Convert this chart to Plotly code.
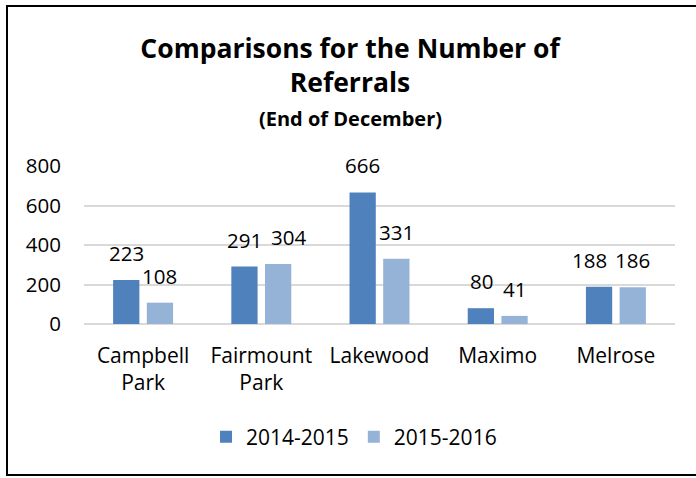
import plotly.graph_objects as go

# Referral counts per site, end of December
sites = ["Campbell<br>Park", "Fairmount<br>Park", "Lakewood", "Maximo", "Melrose"]
referrals_2014_2015 = [223, 291, 666, 80, 188]
referrals_2015_2016 = [108, 304, 331, 41, 186]
series_names = ["2014-2015", "2015-2016"]
y_ticks = [0, 200, 400, 600, 800]

DARK = "#4F81BD"
LIGHT = "#95B3D7"
FONT = "Open Sans"

fig = go.Figure()
fig.add_trace(go.Bar(x=sites, y=referrals_2014_2015, name=series_names[0],
                     marker=dict(color=DARK, line=dict(width=0))))
fig.add_trace(go.Bar(x=sites, y=referrals_2015_2016, name=series_names[1],
                     marker=dict(color=LIGHT, line=dict(width=0))))

# value labels above each bar; a few are nudged sideways so neighbours don't collide
nudge = {(0, "Melrose"): -10, (1, "Fairmount<br>Park"): 10}
for k, (values, shift) in enumerate(((referrals_2014_2015, -16.7), (referrals_2015_2016, 16.7))):
    for site, v in zip(sites, values):
        fig.add_annotation(x=site, y=v, text=str(v), showarrow=False,
                           xref="x", yref="y", xshift=shift + nudge.get((k, site), 0),
                           yshift=11, yanchor="bottom",
                           font=dict(family=FONT, size=20.5, color="#000"))

fig.add_annotation(text="<b>(End of December)</b>", xref="paper", yref="paper",
                   x=(350 - 84) / 591, y=(324 - 118) / 158, showarrow=False,
                   xanchor="center", yanchor="middle",
                   font=dict(family=FONT, size=20, color="#000"))

# outer frame
fig.add_shape(type="rect", xref="paper", yref="paper",
              x0=(7 - 84) / 591, x1=(705 - 84) / 591,
              y0=(324 - 475) / 158, y1=(324 - 6) / 158,
              line=dict(color="#000", width=2), fillcolor="rgba(0,0,0,0)", layer="above")

fig.update_layout(
    width=696, height=478,
    margin=dict(l=84, r=21, t=166, b=154),
    paper_bgcolor="white", plot_bgcolor="white",
    font=dict(family=FONT, size=20, color="#000"),
    title=dict(text="<b>Comparisons for the Number of<br>Referrals</b>",
               x=350 / 696, xref="container", xanchor="center",
               y=1 - 58 / 478, yref="container", yanchor="middle",
               font=dict(family=FONT, size=26.5, color="#000")),
    barmode="group", bargap=0.43, bargroupgap=0.22,
    showlegend=True,
    legend=dict(orientation="h", x=(354 - 84) / 591, xanchor="center",
                y=(324 - 437) / 158, yanchor="middle",
                font=dict(family=FONT, size=21, color="#000"),
                itemwidth=30, traceorder="normal"),
    xaxis=dict(showgrid=False, showline=False, ticks="", tickfont=dict(size=21),
               ticklabelstandoff=17),
    yaxis=dict(range=[0, 800], tickvals=y_ticks, showgrid=True, gridcolor="#D9D9D9",
               gridwidth=1.5, zeroline=True, zerolinecolor="#D9D9D9", zerolinewidth=1.5,
               showline=False, ticks="", tickfont=dict(size=20.5), ticklabelstandoff=22),
)

fig.write_html("out.html")
